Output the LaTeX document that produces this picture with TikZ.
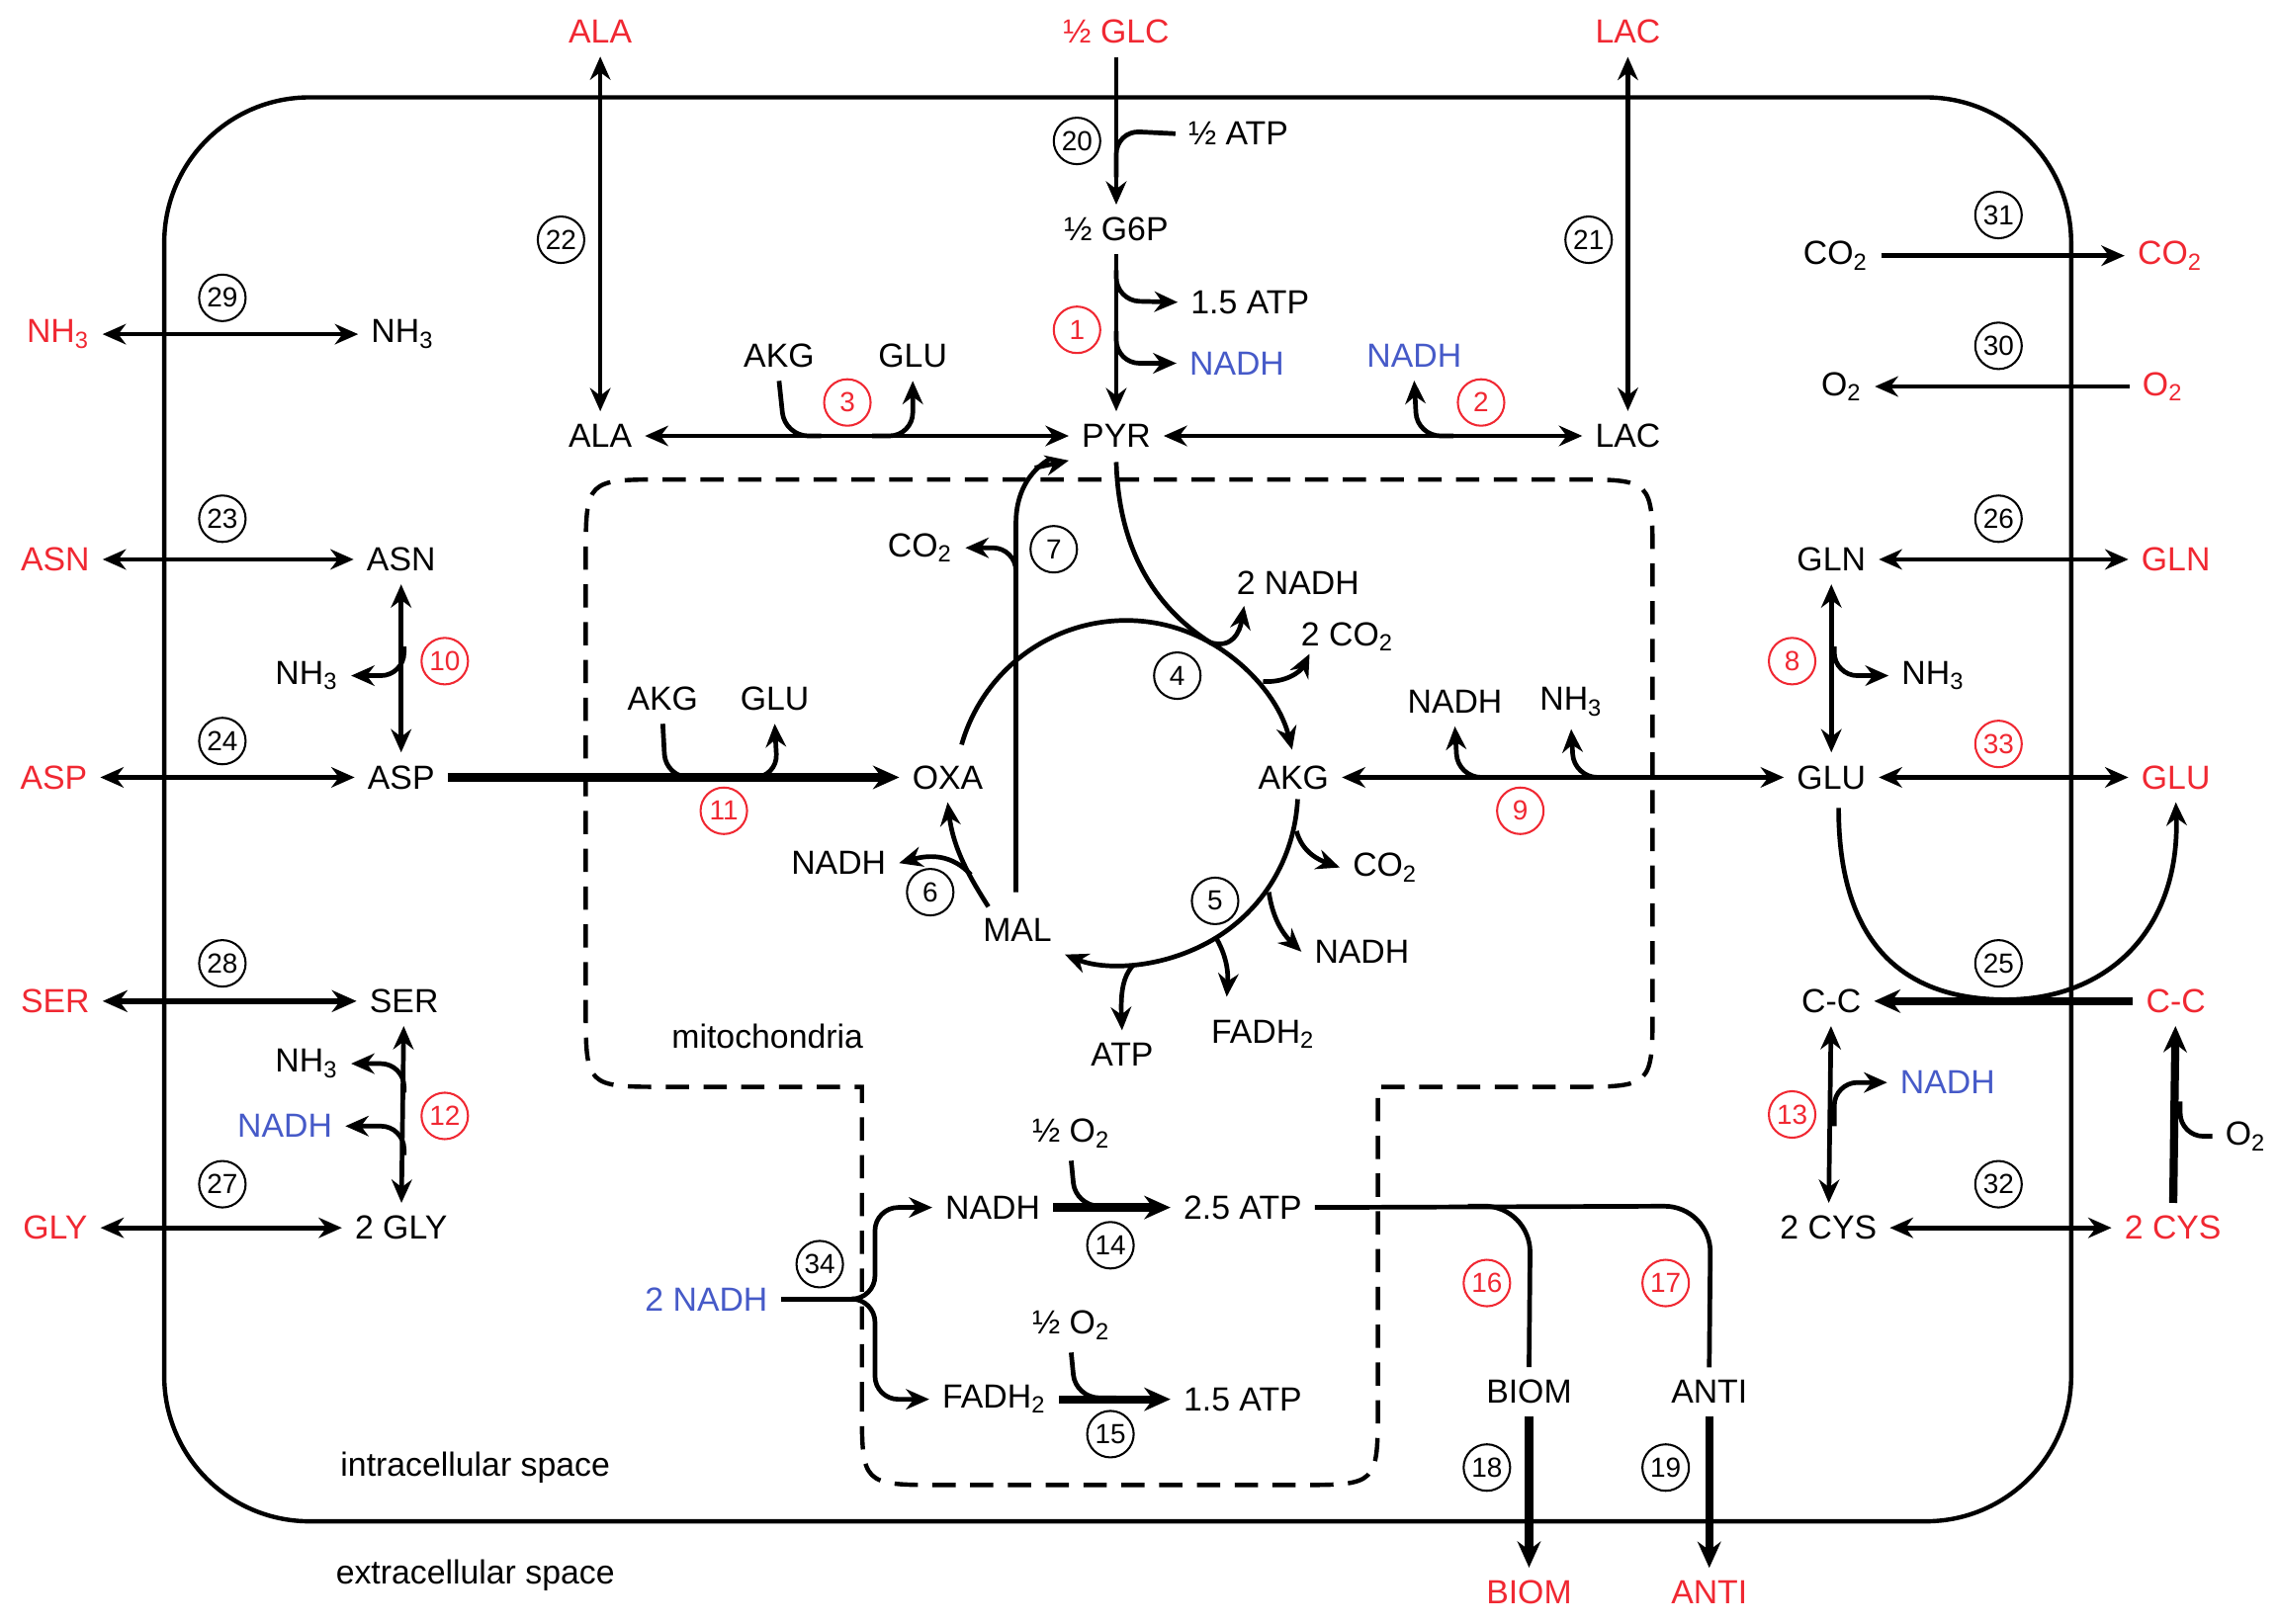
\documentclass[tikz,border=0pt]{standalone}
\usepackage{fontspec}
\setmainfont{Liberation Sans}
\usetikzlibrary{arrows.meta}
\definecolor{myred}{RGB}{240,40,50}
\definecolor{myblue}{RGB}{70,90,200}
\begin{document}
\begin{tikzpicture}[x=0.5pt,y=-0.5pt,
 every node/.style={font=\fontsize{11.5}{13}\selectfont, inner sep=1.5pt, outer sep=3pt},
 rd/.style={text=myred}, bl/.style={text=myblue},
 num/.style={circle,draw,line width=0.7pt,minimum size=16pt,inner sep=0pt,outer sep=0pt,font=\fontsize{9.5}{10}\selectfont},
 rnum/.style={num,draw=myred,text=myred},
 ln/.style={line width=1.6pt},
 hk/.style={ln,rounded corners=8pt},
 ar/.style={ln,-{Stealth[length=8pt,width=7pt]}},
 hka/.style={ar,rounded corners=8pt},
 dar/.style={ln,{Stealth[length=8pt,width=7pt]}-{Stealth[length=8pt,width=7pt]}},
 tkar/.style={line width=2.8pt,-{Stealth[length=9pt,width=8pt]}},
 mdar/.style={line width=2.2pt,{Stealth[length=8.5pt,width=7.5pt]}-{Stealth[length=8.5pt,width=7.5pt]}}]
\useasboundingbox (0,0) rectangle (1568,1117);
% cell
\draw[line width=1.5pt, rounded corners=50pt] (113,67) rectangle (1425,1047);
% mitochondria
\draw[line width=1.5pt, dash pattern=on 8pt off 5pt] (593,967) -- (593,748) -- (458,748) .. controls (403,748) .. (403,693) -- (403,385) .. controls (403,330) .. (458,330) -- (1082,330) .. controls (1137,330) .. (1137,385) -- (1137,693) .. controls (1137,748) .. (1082,748) -- (948,748) -- (948,967) .. controls (948,1022) .. (893,1022) -- (648,1022) .. controls (593,1022) .. (593,967);

% top
\node[rd] (eALA) at (413,22) {ALA};
\node[rd] (eGLC) at (768,22) {½ GLC};
\node[rd] (eLAC) at (1120,22) {LAC};
\node (ALA) at (413,300) {ALA};
\node (PYR) at (768,300) {PYR};
\node (LAC) at (1120,300) {LAC};
\node (G6P) at (768,158) {½ G6P};
\node (atp20) at (852,92) {½ ATP};
\node[num] (n20) at (741,97) {20};
\node (atp1) at (860,208) {1.5 ATP};
\node[bl] (nadh1) at (851,250) {NADH};
\node[rnum] (n1) at (741,227) {1};
\node (akg3) at (536,245) {AKG};
\node (glu3) at (628,245) {GLU};
\node[rnum] (n3) at (583,277) {3};
\node[bl] (nadh2) at (973,245) {NADH};
\node[rnum] (n2) at (1019,277) {2};
\node[num] (n22) at (386,165) {22};
\node[num] (n21) at (1093,165) {21};
\draw[dar] (eALA) -- (ALA);
\draw[ar] (eGLC) -- (G6P);
\draw[dar] (eLAC) -- (LAC);
\draw[ar] (G6P) -- (PYR);
\draw[dar] (ALA) -- (PYR);
\draw[dar] (PYR) -- (LAC);
\draw[hk] (atp20.west) -- (768,90) -- (768,122);
\draw[hka] (768,186) -- (768,207) -- (atp1.west);
\draw[hka] (768,228) -- (768,250) -- (nadh1.west);
\draw[hk] (akg3.south) -- (540,300) -- (565,300);
\draw[hka] (600,300) -- (628,300) -- (glu3.south);
\draw[hka] (1000,300) -- (975,300) -- (nadh2.south);

% left
\node[rd] (eNH3) at (40,230) {NH\textsubscript{3}};
\node (NH3) at (277,230) {NH\textsubscript{3}};
\node[num] (n29) at (153,205) {29};
\node[rd] (eASN) at (38,385) {ASN};
\node (ASN) at (276,385) {ASN};
\node[num] (n23) at (153,357) {23};
\node (nh10) at (211,465) {NH\textsubscript{3}};
\node[rnum] (n10) at (306,455) {10};
\node[rd] (eASP) at (37,535) {ASP};
\node (ASP) at (276,535) {ASP};
\node[num] (n24) at (153,510) {24};
\node[rd] (eSER) at (38,689) {SER};
\node (SER) at (278,689) {SER};
\node[num] (n28) at (153,663) {28};
\node (nh12) at (211,732) {NH\textsubscript{3}};
\node[bl] (nadh12) at (196,775) {NADH};
\node[rnum] (n12) at (306,768) {12};
\node[rd] (eGLY) at (38,845) {GLY};
\node (GLY) at (276,845) {2 GLY};
\node[num] (n27) at (153,815) {27};
\draw[dar] (eNH3) -- (NH3);
\draw[dar] (eASN) -- (ASN);
\draw[dar] (eASP) -- (ASP);
\draw[mdar] (eSER) -- (SER);
\draw[dar] (eGLY) -- (GLY);
\draw[dar] (ASN) -- (ASP);
\draw[hka] (278,445) -- (278,465) -- (nh10.east);
\draw[dar] (SER) -- (GLY);
\draw[hka] (278,752) -- (278,732) -- (nh12.east);
\draw[hka] (278,795) -- (278,775) -- (nadh12.east);

% right
\node (CO2i) at (1263,176) {CO\textsubscript{2}};
\node[rd] (eCO2) at (1493,176) {CO\textsubscript{2}};
\node[num] (n31) at (1375,148) {31};
\node (O2i) at (1267,266) {O\textsubscript{2}};
\node[rd] (eO2) at (1488,266) {O\textsubscript{2}};
\node[num] (n30) at (1375,238) {30};
\node (GLN) at (1260,385) {GLN};
\node[rd] (eGLN) at (1497,385) {GLN};
\node[num] (n26) at (1375,357) {26};
\node[rnum] (n8) at (1233,455) {8};
\node (nh8) at (1330,465) {NH\textsubscript{3}};
\node (GLU) at (1260,535) {GLU};
\node[rd] (eGLU) at (1497,535) {GLU};
\node[rnum] (n33) at (1375,512) {33};
\node (CC) at (1260,689) {C-C};
\node[rd] (eCC) at (1497,689) {C-C};
\node[num] (n25) at (1375,663) {25};
\node[rnum] (n13) at (1233,767) {13};
\node[bl] (nadh13) at (1340,745) {NADH};
\node (CYS) at (1258,845) {2 CYS};
\node[rd] (eCYS) at (1495,845) {2 CYS};
\node[num] (n32) at (1375,815) {32};
\node (o232) at (1545,782) {O\textsubscript{2}};
\draw[ar] (CO2i) -- (eCO2);
\draw[ar] (eO2) -- (O2i);
\draw[dar] (GLN) -- (eGLN);
\draw[dar] (GLU) -- (eGLU);
\draw[dar] (GLN) -- (GLU);
\draw[hka] (1262,445) -- (1262,465) -- (nh8.west);
\draw[ln] (1265,556) .. controls (1265,660) and (1320,688) .. (1380,688);
\draw[ar] (1380,688) .. controls (1450,688) and (1500,640) .. (eGLU.south);
\draw[tkar] (eCC) -- (CC);
\draw[dar] (CC) -- (CYS);
\draw[hka] (1262,775) -- (1262,745) -- (nadh13.west);
\draw[dar] (CYS) -- (eCYS);
\draw[tkar] (eCYS) -- (eCC);
\draw[hk] (o232.west) -- (1500,782) -- (1500,758);

% mitochondria contents
\node (co27) at (633,377) {CO\textsubscript{2}};
\node[num] (n7) at (725,378) {7};
\node (nadh4) at (893,401) {2 NADH};
\node (co24) at (927,438) {2 CO\textsubscript{2}};
\node[num] (n4) at (810,465) {4};
\node (akg11) at (456,481) {AKG};
\node (glu11) at (533,481) {GLU};
\node (OXA) at (652,535) {OXA};
\node[rnum] (n11) at (498,558) {11};
\node (AKG) at (890,535) {AKG};
\node (nadh9) at (1001,483) {NADH};
\node (nh9) at (1081,483) {NH\textsubscript{3}};
\node[rnum] (n9) at (1046,558) {9};
\node (nadh6) at (577,594) {NADH};
\node[num] (n6) at (640,614) {6};
\node (MAL) at (700,640) {MAL};
\node[num] (n5) at (836,620) {5};
\node (co25) at (953,597) {CO\textsubscript{2}};
\node (nadh5) at (937,655) {NADH};
\node (atp5) at (772,726) {ATP};
\node (fadh5) at (869,712) {FADH\textsubscript{2}};
\node (mito) at (528,713) {mitochondria};
\draw[tkar] (ASP) -- (OXA);
\draw[hk] (akg11.south) -- (458,535) -- (485,535);
\draw[hka] (510,535) -- (535,535) -- (glu11.south);
\draw[dar] (AKG) -- (GLU);
\draw[hka] (1028,535) -- (1003,535) -- (nadh9.south);
\draw[hka] (1108,535) -- (1083,535) -- (nh9.south);
% TCA arcs
\draw[ln] (661.6,512.5) .. controls (676,462) and (722,427) .. (775,427) .. controls (795.7,427) and (816,432.6) .. (834,443);
\draw[ar] (768,318) .. controls (770,390) and (805,425) .. (834,443) .. controls (861,459) and (881,484) .. (889,516);
\draw[ar] (832,442) .. controls (848,447) and (853,435) .. (856,417);
\draw[ar] (869,469) .. controls (885,470) and (895,462) .. (901,450);
\draw[ar] (892.8,550) .. controls (890.7,591) and (868.6,627) .. (834,647) .. controls (799.4,667) and (760,668) .. (MAL.south east);
\draw[ar] (892,572) .. controls (896,587) and (908,592) .. (co25.west);
\draw[ar] (873,614) .. controls (876,635) and (885,645) .. (nadh5.west);
\draw[ar] (837,646) .. controls (845,660) and (845,672) .. (844,686);
\draw[ar] (780,664) .. controls (772,672) and (771,685) .. (atp5.north);
\draw[ln] (699,614) -- (699,360) .. controls (699,335) and (712,322) .. (722,316);
\draw[ar] (712,322) -- (PYR.south west);
\draw[hka] (699,402) -- (699,377) -- (co27.east);
\draw[ar] (680,624) .. controls (668,605) and (656,585) .. (OXA.south);
\draw[ar] (668,602) .. controls (655,588) and (640,588) .. (nadh6.east);

% bottom
\node (o214) at (737,780) {½ O\textsubscript{2}};
\node (NADHb) at (683,831) {NADH};
\node (ATP25) at (855,831) {2.5 ATP};
\node[num] (n14) at (764,857) {14};
\node[num] (n34) at (564,870) {34};
\node[bl] (NADH2) at (486,894) {2 NADH};
\node (o215) at (737,912) {½ O\textsubscript{2}};
\node (FADHb) at (684,963) {FADH\textsubscript{2}};
\node (ATP15) at (855,963) {1.5 ATP};
\node[num] (n15) at (764,987) {15};
\node[rnum] (n16) at (1023,883) {16};
\node[rnum] (n17) at (1146,883) {17};
\node (BIOM) at (1052,958) {BIOM};
\node (ANTI) at (1176,958) {ANTI};
\node[num] (n18) at (1023,1010) {18};
\node[num] (n19) at (1146,1010) {19};
\node[rd] (eBIOM) at (1052,1096) {BIOM};
\node[rd] (eANTI) at (1176,1096) {ANTI};
\node (intra) at (327,1010) {intracellular space};
\node (extra) at (327,1084) {extracellular space};
\draw[tkar] (NADHb) -- (ATP25);
\draw[hk] (o214.south) -- (740,830) -- (768,830);
\draw[tkar] (FADHb) -- (ATP15);
\draw[hk] (o215.south) -- (740,962) -- (768,962);
\draw[ln] (NADH2.east) -- (590,894);
\draw[hka] (588,894) -- (602,894) -- (602,831) -- (NADHb.west);
\draw[hka] (588,894) -- (602,894) -- (602,963) -- (FADHb.west);
\draw[ln,rounded corners=16pt] (ATP25.east) -- (1177,830) -- (ANTI.north);
\draw[ln,rounded corners=16pt] (1010,830) -- (1053,830) -- (BIOM.north);
\draw[tkar] (BIOM) -- (eBIOM);
\draw[tkar] (ANTI) -- (eANTI);
\end{tikzpicture}
\end{document}
